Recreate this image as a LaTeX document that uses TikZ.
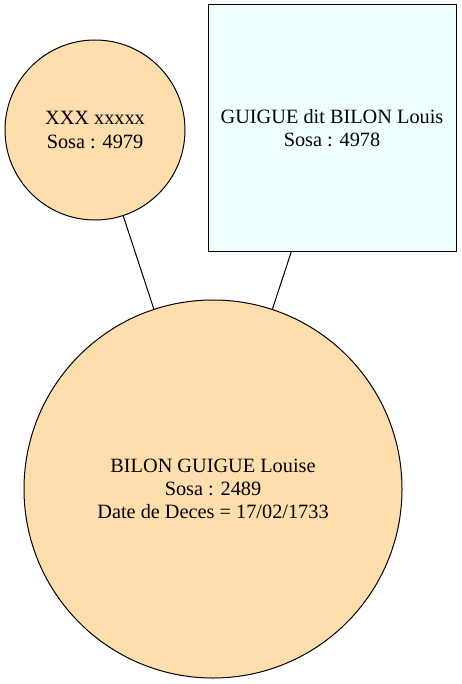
\documentclass[tikz,border=0pt]{standalone}
\usepackage{fontspec}
\setmainfont{Liberation Serif}
\begin{document}
\begin{tikzpicture}[x=1pt,y=-1pt,
  person/.style={draw=black,line width=1pt,inner sep=0pt,outer sep=0pt,align=center,
    font=\fontsize{20.3}{23.2}\selectfont},
  female/.style={person,circle,fill=navajo},
  male/.style={person,rectangle,fill=azurec},
  link/.style={draw=black,line width=1pt}]
\definecolor{navajo}{HTML}{FFDEAD}
\definecolor{azurec}{HTML}{F0FFFF}
\useasboundingbox (0,0) rectangle (462,684);
\node[female,minimum size=180pt] (xxx) at (95,130) {XXX xxxxx\\Sosa : 4979};
\node[male,minimum width=248pt,minimum height=247pt] (louis) at (332,128.5) {GUIGUE dit BILON Louis\\Sosa : 4978};
\node[female,minimum size=378pt] (louise) at (213,489) {BILON GUIGUE Louise\\Sosa : 2489\\Date de Deces = 17/02/1733};
\draw[link] (xxx) -- (louise);
\draw[link] (louis) -- (louise);
\end{tikzpicture}
\end{document}
